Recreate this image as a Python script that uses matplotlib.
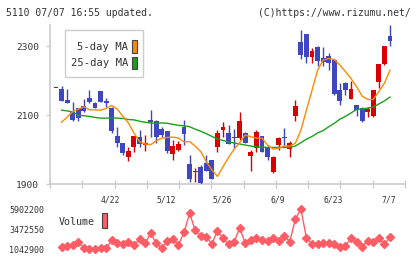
import numpy as np
import matplotlib
matplotlib.use("Agg")
import matplotlib.pyplot as plt
from matplotlib.patches import Rectangle

# candle data (index 0 = oldest day)
opens = [2177, 2175, 2143, 2109, 2120, 2126, 2148, 2135, 2170, 2141,
         2121, 2039, 2018, 1977, 2008, 2035, 2013, 2087, 2084, 2060,
         2054, 1988, 1999, 2066, 1958, 1934, 1948, 1960, 1970, 2006,
         2057, 2047, 2036, 2032, 2047, 1981, 2004, 2039, 2008, 1936,
         2014, 2036, 2002, 2098, 2312, 2335, 2267, 2296, 2265, 2271,
         2259, 2172, 2192, 2146, 2129, 2120, 2110, 2098, 2197, 2248, 2329]
highs = [2177, 2184, 2174, 2139, 2121, 2145, 2172, 2139, 2170, 2150,
         2123, 2064, 2020, 2007, 2040, 2056, 2042, 2116, 2085, 2066,
         2055, 2027, 2024, 2086, 1984, 1947, 1955, 1983, 1971, 2056,
         2080, 2071, 2060, 2109, 2051, 1999, 2056, 2040, 2009, 1980,
         2037, 2062, 2026, 2143, 2346, 2336, 2293, 2300, 2298, 2281,
         2262, 2192, 2197, 2198, 2130, 2123, 2123, 2173, 2249, 2301, 2361]
lows = [2177, 2142, 2136, 2084, 2084, 2109, 2136, 2120, 2138, 2122,
        2047, 2006, 1984, 1967, 1994, 2006, 1997, 2037, 2020, 2036,
        1991, 1970, 1995, 2012, 1907, 1907, 1900, 1938, 1915, 1993,
        2036, 2016, 2004, 2028, 2018, 1939, 1993, 1992, 1971, 1933,
        1998, 2006, 1979, 2084, 2261, 2252, 2250, 2242, 2242, 2230,
        2158, 2129, 2159, 2146, 2096, 2081, 2093, 2093, 2177, 2245, 2301]
closes = [2177, 2142, 2136, 2087, 2090, 2112, 2139, 2120, 2139, 2136,
          2054, 2018, 1991, 1996, 2039, 2016, 2018, 2079, 2037, 2041,
          1996, 2010, 2016, 2046, 1914, 1935, 1904, 1939, 1915, 2047,
          2066, 2016, 2033, 2082, 2019, 1993, 2052, 1993, 1979, 1979,
          2033, 2033, 2018, 2126, 2275, 2267, 2285, 2257, 2254, 2250,
          2161, 2142, 2173, 2175, 2115, 2082, 2117, 2172, 2248, 2300, 2315]

# moving averages and volume start at day 1
ma5 = [2079, 2094, 2110, 2117, 2124, 2115, 2115, 2114, 2119, 2128,
       2117, 2097, 2077, 2048, 2023, 2016, 2014, 2025, 2033, 2035,
       2036, 2033, 2022, 2023, 2010, 1994, 1965, 1941, 1922, 1950,
       1977, 2001, 2020, 2042, 2037, 2033, 2033, 2013, 2001, 2004,
       2010, 2010, 2018, 2056, 2115, 2172, 2230, 2259, 2264, 2261,
       2245, 2226, 2206, 2182, 2155, 2145, 2145, 2168, 2192, 2230]
ma25 = [2114, 2112, 2109, 2099, 2098, 2096, 2093, 2091, 2091, 2092,
        2091, 2090, 2087, 2086, 2082, 2079, 2077, 2076, 2077, 2076,
        2073, 2070, 2069, 2066, 2059, 2053, 2046, 2038, 2031, 2026,
        2022, 2019, 2016, 2013, 2010, 2008, 2007, 2006, 2006, 2006,
        2006, 2006, 2010, 2020, 2030, 2038, 2048, 2055, 2066, 2076,
        2088, 2096, 2106, 2116, 2118, 2120, 2123, 2132, 2141, 2152]
volume = [1360000, 1480000, 1600000, 1890000, 1240000, 1042900, 1042900, 1160000, 1160000, 2130000,
          1770000, 1650000, 1930000, 1560000, 2250000, 1770000, 2970000, 1770000, 1160000, 2090000,
          2290000, 1560000, 3090000, 5380000, 3370000, 2650000, 2570000, 1690000, 3290000, 2370000,
          1690000, 1890000, 3650000, 1770000, 2170000, 2370000, 2130000, 2090000, 2450000, 2090000,
          2650000, 1970000, 4660000, 5902200, 2370000, 1690000, 1690000, 1770000, 1770000, 1690000,
          1360000, 1480000, 2370000, 1890000, 1360000, 2090000, 1890000, 2370000, 1690000, 2490000]

date_labels = ['4/22', '5/12', '5/26', '6/9', '6/23', '7/7']
date_idx = [10, 20, 30, 40, 50, 60]
price_ticks = [1900, 2100, 2300]
vol_ticks = [1042900, 3472550, 5902200]

W, H = 420, 259
RED = '#d80000'
BLUE = '#3f47c0'
ORANGE = '#ff8a00'
GREEN = '#1aa01a'
VOLC = '#ff5c64'
GRID = '#cccccc'
TXT = '#333333'
MONO = 'DejaVu Sans Mono'


def fr(x, y):
    return x / W, 1 - y / H


fig = plt.figure(figsize=(W / 100, H / 100), dpi=100)
fig.patch.set_facecolor('white')

xlim = (-1.08, 62.7)
ax = fig.add_axes([50 / W, 1 - 184 / H, 355 / W, 159 / H])
ax.set_xlim(*xlim)
ax.set_ylim(1900, 2361)
for s in ['top', 'right']:
    ax.spines[s].set_visible(False)
for s in ['left', 'bottom']:
    ax.spines[s].set_color(GRID)
    ax.spines[s].set_linewidth(1.2)

x = np.arange(len(opens))
o = np.array(opens)
c = np.array(closes)
cols = [RED if cc >= oo else BLUE for oo, cc in zip(o, c)]
ax.vlines(x, lows, highs, colors=cols, lw=1.0, zorder=3)
body = np.maximum(np.abs(c - o), 4)
ax.bar(x, body, bottom=np.minimum(o, c), width=0.88, color=cols, zorder=4)

xm = np.arange(1, len(opens))
ax.plot(xm, ma25, color=GREEN, lw=1.0, zorder=5)
ax.plot(xm, ma5, color=ORANGE, lw=1.0, zorder=5)

ax.set_yticks(price_ticks)
ax.set_yticklabels([str(v) for v in price_ticks], fontsize=6.8, family=MONO, color=TXT)
ax.tick_params(axis='y', length=3, width=1, color=GRID, pad=5)

ax.set_xticks(np.linspace(xlim[0], xlim[1], 12))
ax.set_xticklabels([])
ax.tick_params(axis='x', which='major', direction='inout', length=6, width=1, color=GRID)
ax.set_xticks([i - 0.2 for i in date_idx], minor=True)
ax.set_xticklabels(date_labels, minor=True, fontsize=5.8, family=MONO, color=TXT)
ax.tick_params(axis='x', which='minor', length=0, pad=8)

# legend box for the moving averages
bx0, by0 = fr(65, 77.3)
bx1, by1 = fr(143.3, 30)
fig.add_artist(Rectangle((bx0, by0), bx1 - bx0, by1 - by0, transform=fig.transFigure,
                         fc='white', ec=GRID, lw=1, zorder=10))
for lab, yy, col in [('5-day MA', 46.5, ORANGE), ('25-day MA', 63.3, GREEN)]:
    fig.text(*fr(128, yy), lab, ha='right', va='center', fontsize=7.6, family=MONO,
             color=TXT, zorder=11)
    sx0, sy0 = fr(131.7, yy + 6)
    sx1, sy1 = fr(137.3, yy - 6)
    fig.add_artist(Rectangle((sx0, sy0), sx1 - sx0, sy1 - sy0, transform=fig.transFigure,
                             fc=col, ec='#444444', lw=0.8, zorder=11))

# volume panel
av = fig.add_axes([50 / W, 1 - 249.3 / H, 355 / W, 40.3 / H])
av.set_xlim(*xlim)
av.set_ylim(vol_ticks[0], vol_ticks[-1])
for s in av.spines.values():
    s.set_visible(False)
av.set_xticks([])
av.set_yticks(vol_ticks)
av.set_yticklabels([str(v) for v in vol_ticks], fontsize=6.0, family=MONO, color=TXT)
av.tick_params(axis='y', length=0, pad=4)
av.plot(xm, volume, color=VOLC, lw=1.0, marker='D', markersize=4, clip_on=False)

fig.text(*fr(59, 222), 'Volume', ha='left', va='center', fontsize=7.2, family=MONO, color=TXT)
vx0, vy0 = fr(101.7, 228)
vx1, vy1 = fr(107.3, 213)
fig.add_artist(Rectangle((vx0, vy0), vx1 - vx0, vy1 - vy0, transform=fig.transFigure,
                         fc=VOLC, ec='#444444', lw=0.8))

# header
fig.text(*fr(6, 13), '5110 07/07 16:55 updated.', ha='left', va='center',
         fontsize=7.0, family=MONO, color=TXT)
fig.text(*fr(411, 13), '(C)https://www.rizumu.net/', ha='right', va='center',
         fontsize=7.0, family=MONO, color=TXT)

fig.savefig('out.png', dpi=100)
